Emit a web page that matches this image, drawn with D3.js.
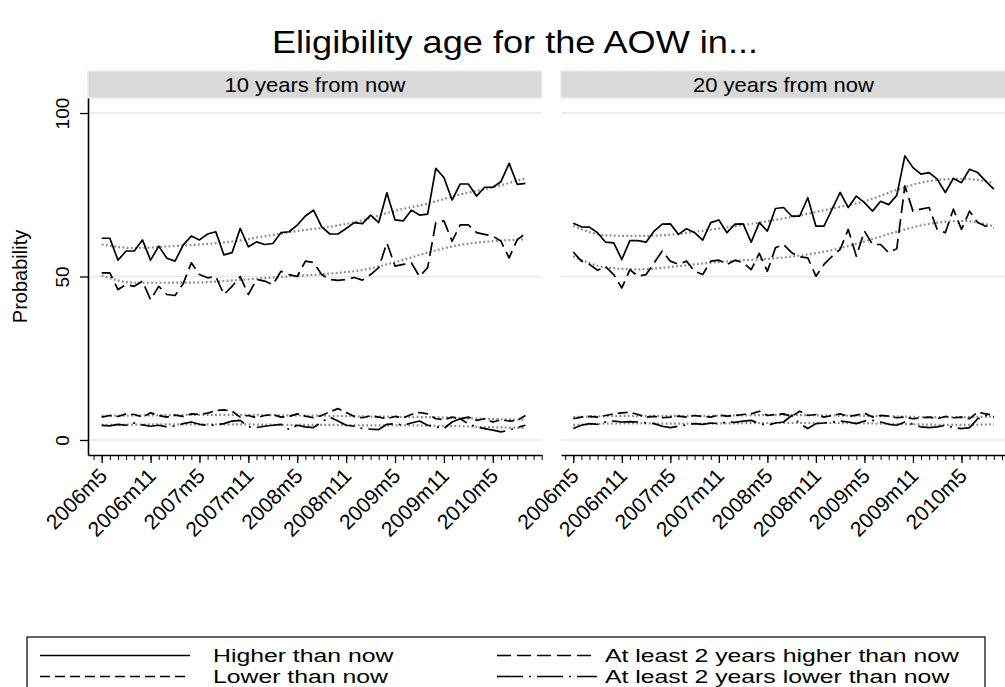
<!DOCTYPE html>
<html><head><meta charset="utf-8">
<script src="https://cdn.jsdelivr.net/npm/d3@7"></script>
<style>
body{margin:0;background:#fff;}
svg{display:block;}
text{font-family:"Liberation Sans",Arial,Helvetica,sans-serif;fill:#000;}
</style>
</head><body>
<svg id="c" width="1005" height="687"></svg>
<script>
// ---- data ----
const tickLabels = ["2006m5","2006m11","2007m5","2007m11","2008m5","2008m11","2009m5","2009m11","2010m5"];
const tickMonths = [0,6,12,18,24,30,36,42,48];
const panelTitles = ["10 years from now","20 years from now"];
const seriesNames = ["Higher than now","At least 2 years higher than now","Lower than now","At least 2 years lower than now"];

// months since 2006m5 (0 .. 52)
const L_higher = [61.7,61.7,55.0,57.8,57.8,61.2,55.0,59.3,55.6,54.7,59.6,62.4,61.2,63.0,63.7,56.6,57.3,64.7,59.1,60.6,59.8,60.1,63.4,63.7,65.7,68.5,70.3,65.2,63.0,63.0,64.7,66.5,66.2,68.8,66.5,75.6,67.3,67.0,70.3,68.8,69.1,83.1,80.3,73.4,78.3,78.3,74.6,77.3,77.3,79.0,84.6,78.2,78.5];
const L_higher2 = [51.1,51.1,46.0,47.5,47.0,48.6,42.9,47.0,44.5,44.2,47.8,54.2,50.6,49.6,50.0,44.5,47.0,50.0,44.5,49.1,48.6,47.5,51.6,50.6,50.0,54.7,54.3,50.6,49.1,48.8,49.1,49.7,48.9,50.6,52.7,60.3,53.2,53.7,54.2,50.0,52.7,66.5,67.0,60.8,65.8,65.8,63.4,62.9,62.4,60.8,55.7,61.3,63.1];
const L_lower = [7.0,7.5,7.2,8.0,7.8,7.0,8.3,7.5,7.0,7.6,7.2,8.0,7.8,8.2,9.0,9.2,8.8,7.0,7.5,6.8,7.5,7.8,7.0,7.2,8.0,7.3,6.8,7.5,8.6,9.6,8.4,7.2,6.8,7.4,7.0,6.5,7.2,6.8,7.8,8.4,8.0,6.5,6.2,7.0,6.5,7.0,6.0,6.5,5.5,6.2,5.8,6.0,7.5];
const L_lower2 = [4.5,4.3,4.8,4.5,5.2,4.6,4.2,4.5,4.0,4.3,5.0,5.5,4.8,4.5,4.6,5.0,5.8,6.0,4.0,3.8,4.2,4.5,4.8,3.2,4.5,4.0,3.8,5.5,7.0,5.8,4.5,4.2,3.5,3.3,3.2,4.8,5.0,4.5,5.2,5.8,4.5,4.0,3.5,5.5,6.5,5.0,4.0,3.5,3.0,2.5,3.0,3.8,4.5];

const R_higher = [66.3,65.2,65.1,63.4,60.5,60.3,55.2,61.0,61.0,60.5,63.9,66.0,66.1,62.9,64.6,63.4,61.1,66.5,67.3,63.4,66.0,66.1,60.5,66.5,63.9,70.8,71.1,68.5,68.5,74.1,65.4,65.4,70.6,75.7,71.1,74.6,72.6,70.0,73.0,72.0,74.8,86.9,83.3,81.3,81.8,79.8,75.7,80.0,78.7,82.8,81.8,79.2,76.7];
const R_higher2 = [57.5,54.7,53.7,51.9,53.0,50.6,46.5,52.1,50.1,50.6,54.2,57.8,54.7,53.7,54.7,51.6,50.6,54.7,55.0,53.7,55.0,54.2,52.1,57.1,51.6,58.8,59.8,57.3,56.0,55.7,50.1,53.7,56.2,58.3,64.4,56.2,63.9,59.8,59.8,57.3,58.5,77.7,70.0,70.6,71.1,64.4,63.4,70.6,64.4,70.0,66.5,65.4,64.9];
const R_lower = [6.5,7.0,7.2,7.0,7.5,8.0,8.3,8.5,7.8,7.0,7.2,6.8,7.0,7.3,7.0,7.5,7.2,7.0,7.6,7.3,7.5,7.8,8.0,8.8,7.5,7.8,8.0,7.2,8.8,7.5,7.8,7.0,7.5,8.0,7.2,7.6,8.2,7.0,7.5,7.3,6.8,7.0,6.5,6.8,7.0,6.5,7.2,6.8,7.0,6.5,8.5,8.0,7.5];
const R_lower2 = [3.5,4.5,5.0,4.8,5.5,5.8,5.5,5.6,5.5,5.2,5.0,4.2,3.8,4.2,4.6,5.0,4.8,5.2,5.0,5.5,5.4,5.8,6.0,5.0,4.5,5.2,5.5,7.5,5.0,3.5,5.0,5.2,5.5,5.8,5.5,5.0,5.8,6.0,5.5,4.8,4.5,5.5,4.8,4.0,3.8,4.0,4.5,3.8,3.5,3.8,6.5,7.5,7.0];

// smoothed trends, at months 0,4,...,52
const smoothMonths = [0,4,8,12,16,20,24,28,32,36,40,44,48,52];
const L_higher_s = [59.8,58.7,59.2,59.8,60.7,62.3,63.9,65.2,67.2,70.1,72.3,75.1,77.3,80.0];
const L_higher2_s = [50.3,48.1,48.1,48.2,48.8,49.5,50.2,50.9,52.0,54.4,57.3,59.7,60.8,61.4];
const L_lower_s = [7.4,7.5,7.6,7.7,7.7,7.6,7.5,7.4,7.2,7.1,7.0,6.7,6.4,6.2];
const L_lower2_s = [4.6,4.7,4.8,4.8,4.8,4.7,4.6,4.6,4.5,4.5,4.4,4.2,3.9,3.7];
const R_higher_s = [65.5,62.6,62.4,62.8,64.0,65.4,66.9,68.7,70.8,73.0,76.5,79.2,79.9,78.7];
const R_higher2_s = [56.2,52.8,52.2,52.9,54.0,54.8,55.4,56.4,58.1,60.7,63.7,66.1,67.0,65.4];
const R_lower_s = [7.0,7.3,7.4,7.4,7.4,7.5,7.6,7.6,7.5,7.4,7.2,7.0,7.0,7.2];
const R_lower2_s = [4.6,5.0,5.1,5.0,5.0,5.1,5.2,5.2,5.2,5.1,4.9,4.7,4.6,4.8];

const yTicks = [0,50,100];

// ---- layout ----
const svg = d3.select("#c");
const W = 1005, H = 687;
const plotTop = 98, plotBottom = 455;
const y = d3.scaleLinear().domain([-4.59, 104.6]).range([plotBottom, plotTop]);

const dashes = ["none", "14,6", "10,5", "26,6,2,6"];

const panels = [
  {title: panelTitles[0], x0: 88, x1: 541.7, dmin: -1.68,
   series: [L_higher, L_higher2, L_lower, L_lower2],
   smooth: [L_higher_s, L_higher2_s, L_lower_s, L_lower2_s], yaxis: true},
  {title: panelTitles[1], x0: 561, x1: 1010, dmin: -1.52,
   series: [R_higher, R_higher2, R_lower, R_lower2],
   smooth: [R_higher_s, R_higher2_s, R_lower_s, R_lower2_s], yaxis: false}
];

// title (slightly wide lettering as in the reference)
svg.append("text").attr("transform","translate(515,53) scale(1.13,1)").attr("text-anchor","middle")
  .style("font-size","32px").text("Eligibility age for the AOW in...");

// y title
svg.append("text").attr("transform","translate(27,276.5) rotate(-90)")
  .attr("text-anchor","middle").style("font-size","20px").text("Probability");

panels.forEach(p => {
  const x = d3.scaleLinear().domain([p.dmin, 54]).range([p.x0, p.x1]);
  const g = svg.append("g");

  // strip
  g.append("rect").attr("x", p.x0).attr("y", 71).attr("width", p.x1 - p.x0).attr("height", 27)
    .attr("fill", "#d9d9d9").attr("stroke", "#e2eef0").attr("stroke-width", 1.5);
  const cx = p.x1 > W ? (p.x0 + p.x1) / 2 - 2 : (p.x0 + p.x1) / 2;
  g.append("text").attr("transform", `translate(${cx},92) scale(1.1,1)`)
    .attr("text-anchor","middle").style("font-size","20px").text(p.title);

  // gridlines
  g.selectAll("line.grid").data(yTicks).join("line").attr("class","grid")
    .attr("x1", p.x0).attr("x2", p.x1).attr("y1", d => y(d)).attr("y2", d => y(d))
    .attr("stroke", "#e8e8e8").attr("stroke-width", 1.5);

  // smooth trend lines
  const sline = d3.line().x((d,i) => x(smoothMonths[i])).y(d => y(d)).curve(d3.curveMonotoneX);
  p.smooth.forEach(s => {
    g.append("path").attr("d", sline(s)).attr("fill","none")
      .attr("stroke","#8a8a8a").attr("stroke-width",2.2).attr("stroke-dasharray","1.8,2.4")
      .attr("stroke-linecap","butt");
  });

  // data lines
  const line = d3.line().x((d,i) => x(i)).y(d => y(d));
  p.series.forEach((s, k) => {
    g.append("path").attr("d", line(s)).attr("fill","none")
      .attr("stroke","#000").attr("stroke-width",1.7)
      .attr("stroke-dasharray", dashes[k]).attr("stroke-linejoin","round");
  });

  // x axis
  const minor = d3.range(-1, 55);
  const xMinor = d3.axisBottom(x).tickValues(minor).tickSize(5).tickSizeOuter(0).tickFormat("");
  const gm = g.append("g").attr("transform", `translate(0,${plotBottom})`).call(xMinor);
  gm.select(".domain").attr("stroke","#000").attr("stroke-width",1.6);
  gm.selectAll(".tick line").attr("stroke","#000").attr("stroke-width",1);

  const xMajor = d3.axisBottom(x).tickValues(tickMonths).tickSize(8).tickSizeOuter(0)
    .tickFormat((d,i) => tickLabels[i]);
  const gx = g.append("g").attr("transform", `translate(0,${plotBottom})`).call(xMajor);
  gx.select(".domain").remove();
  gx.selectAll(".tick line").attr("stroke","#000").attr("stroke-width",1.3);
  gx.selectAll(".tick text")
    .attr("x", 0).attr("y", 0).attr("dy", "0.35em")
    .attr("text-anchor","end")
    .attr("transform","translate(1,17) rotate(-45)")
    .style("font-size","21px").style("font-family","'Liberation Sans',Arial,sans-serif").attr("fill","#000");

  if (p.yaxis) {
    const ya = d3.axisLeft(y).tickValues(yTicks).tickSize(8).tickSizeOuter(0);
    const gy = g.append("g").attr("transform", `translate(${p.x0},0)`).call(ya);
    gy.select(".domain").attr("stroke","#000").attr("stroke-width",1.6);
    gy.selectAll(".tick line").attr("stroke","#000").attr("stroke-width",1.3);
    gy.selectAll(".tick text").attr("x",0).attr("y",0).attr("dy","0.35em")
      .attr("text-anchor","middle")
      .attr("transform","translate(-26,0) rotate(-90)")
      .style("font-size","19px").style("font-family","'Liberation Sans',Arial,sans-serif").attr("fill","#000");
  }
});

// legend
const lg = svg.append("g");
lg.append("rect").attr("x", 27).attr("y", 637).attr("width", 958).attr("height", 80)
  .attr("fill","#fff").attr("stroke","#000").attr("stroke-width",1.2);
const legendItems = [
  {name: seriesNames[0], k: 0, lx: 40, lw: 150, tx: 213, ty: 662},
  {name: seriesNames[1], k: 1, lx: 497, lw: 100, tx: 605, ty: 662},
  {name: seriesNames[2], k: 2, lx: 40, lw: 150, tx: 213, ty: 683},
  {name: seriesNames[3], k: 3, lx: 497, lw: 100, tx: 605, ty: 683}
];
legendItems.forEach(it => {
  lg.append("line").attr("x1", it.lx).attr("x2", it.lx + it.lw).attr("y1", it.ty - 6.5).attr("y2", it.ty - 6.5)
    .attr("stroke","#000").attr("stroke-width",1.6).attr("stroke-dasharray", dashes[it.k]);
  lg.append("text").attr("transform", `translate(${it.tx},${it.ty}) scale(1.34,1)`)
    .style("font-size","18.5px").text(it.name);
});
</script>
</body></html>
